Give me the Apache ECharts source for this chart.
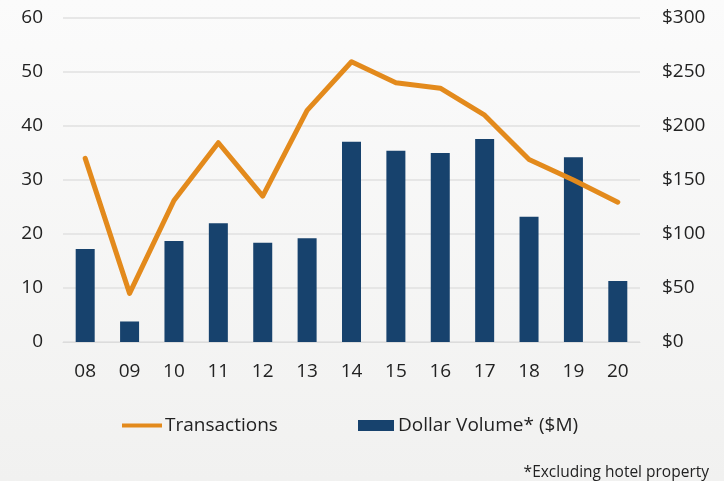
<!DOCTYPE html>
<html><head><meta charset="utf-8">
<script src="https://cdn.jsdelivr.net/npm/echarts@6/dist/echarts.min.js"></script>
<style>html,body{margin:0;padding:0;}#c{width:724px;height:481px;}</style>
</head><body><div id="c"></div>
<script>
var categories = ['08','09','10','11','12','13','14','15','16','17','18','19','20'];
var transactions = [34, 9, 26.2, 36.9, 27, 42.9, 51.9, 48, 47, 42, 33.8, 30, 25.9];
var dollarVolume = [86, 19, 93.5, 110, 92, 96, 185.5, 177, 175, 188, 116, 171, 56.5];
var leftTicks = [0, 60, 10];
var rightTicks = [0, 300, 50];

var chart = echarts.init(document.getElementById('c'));
var font = '"Open Sans", sans-serif';
var txt = {fontFamily: font, fontSize: 19, color: '#222'};
chart.setOption({
  backgroundColor: new echarts.graphic.LinearGradient(0,0,0,1,[{offset:0,color:'#fbfbfb'},{offset:1,color:'#f1f1f0'}]),
  animation: false,
  textStyle: {fontFamily: font},
  grid: {left: 63, right: 84, top: 18, bottom: 139},
  legend: [
    {left: 122, top: 416, itemWidth: 40, itemHeight: 4, itemGap: 0, padding: 0,
     textStyle: {fontFamily: font, fontSize: 19, color: '#222', padding: [0,0,0,-2]},
     data: [{name: 'Transactions', icon: 'rect', itemStyle: {color: '#e38a1c'}}]},
    {left: 358, top: 416, itemWidth: 36, itemHeight: 11, itemGap: 0, padding: 0,
     textStyle: {fontFamily: font, fontSize: 19, color: '#222', padding: [0,0,0,-1]},
     data: [{name: 'Dollar Volume* ($M)', icon: 'rect', itemStyle: {color: '#17426d'}}]}
  ],
  graphic: [{type: 'text', right: 15, top: 465, style: {text: '*Excluding hotel property', font: '15.5px "Open Sans", sans-serif', fill: '#222'}}],
  xAxis: {
    type: 'category', data: categories,
    axisLine: {lineStyle: {color: '#dcdcdc', width: 1}},
    axisTick: {show: false},
    axisLabel: Object.assign({margin: 20}, txt)
  },
  yAxis: [
    {type: 'value', min: leftTicks[0], max: leftTicks[1], interval: leftTicks[2],
     axisLine: {show: false}, axisTick: {show: false},
     axisLabel: Object.assign({margin: 20}, txt),
     splitLine: {lineStyle: {color: '#e0e0e0', width: 1.5}}},
    {type: 'value', min: rightTicks[0], max: rightTicks[1], interval: rightTicks[2],
     axisLine: {show: false}, axisTick: {show: false},
     axisLabel: Object.assign({margin: 22, formatter: function(v){return '$' + v;}}, txt),
     splitLine: {show: false}}
  ],
  series: [
    {name: 'Dollar Volume* ($M)', type: 'bar', yAxisIndex: 1, data: dollarVolume, barWidth: 19,
     itemStyle: {color: '#17426d'}},
    {name: 'Transactions', type: 'line', yAxisIndex: 0, data: transactions, symbol: 'none',
     lineStyle: {color: '#e38a1c', width: 5, join: 'round', cap: 'round'}, itemStyle: {color: '#e38a1c'}, z: 5}
  ]
});
</script></body></html>
